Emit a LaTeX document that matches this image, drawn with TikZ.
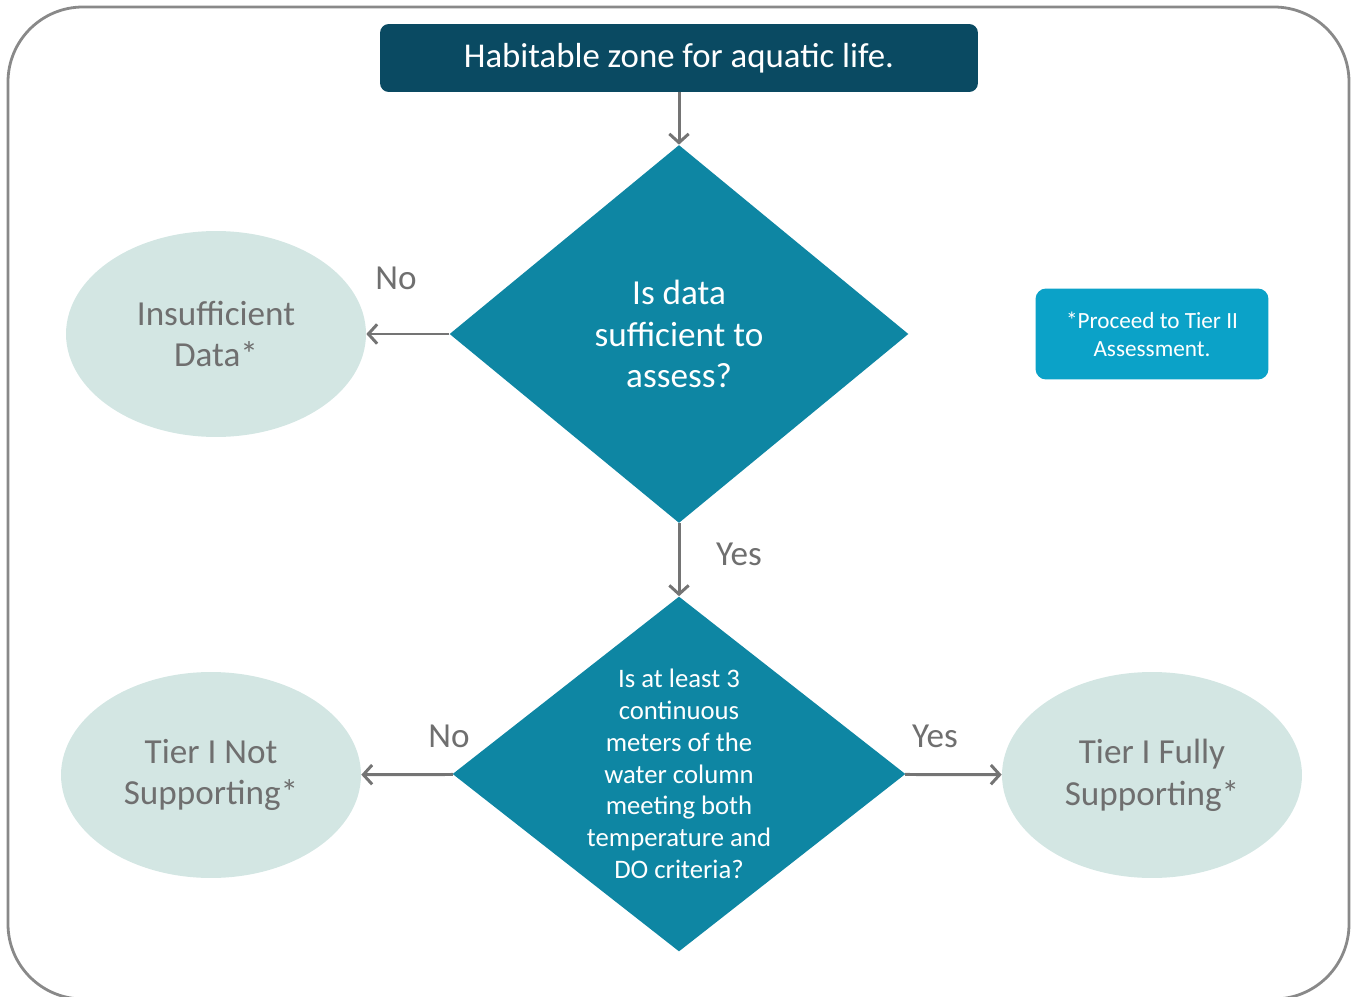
\documentclass[tikz,border=0pt]{standalone}
\usepackage{fontspec}
\setmainfont{Carlito}
\usetikzlibrary{arrows.meta,positioning,shapes.geometric}
\definecolor{zonedark}{HTML}{0A4A62}
\definecolor{decide}{HTML}{0E86A3}
\definecolor{notefill}{HTML}{0BA2C8}
\definecolor{outpale}{HTML}{D3E6E3}
\definecolor{greytext}{HTML}{6F6F6F}
\definecolor{greyline}{HTML}{747474}
\tikzset{zonebox/.style={fill=zonedark,rounded corners=5pt,text=white,minimum width=11.96cm,minimum height=1.36cm,font=\fontsize{19.8}{23}\selectfont},
decision/.style={diamond,fill=decide,inner sep=0pt},
qtext/.style={text=white,align=center},
outcome/.style={ellipse,fill=outpale,text=greytext,align=center,minimum width=6cm,minimum height=4.12cm,inner sep=0pt,font=\fontsize{20}{23.8}\selectfont},
notebox/.style={fill=notefill,rounded corners=6pt,text=white,align=center,minimum width=4.66cm,minimum height=1.82cm,font=\fontsize{13.2}{15.9}\selectfont},
flowarr/.style={-{Straight Barb[length=5pt,width=11pt]},line width=1.7pt,draw=greyline},
flowlabel/.style={text=greytext,font=\fontsize{20}{23}\selectfont}}
\begin{document}
\begin{tikzpicture}[x=0.02cm,y=-0.02cm]
\useasboundingbox (0,0) rectangle (1356,997);
\draw[line width=1.6pt,draw=greyline!85,rounded corners=1.5cm] (8,7) rectangle (1349,999);
\node[zonebox] (zone) at (679,58) {Habitable zone for aquatic life.};
\node[decision,minimum width=9.18cm,minimum height=7.56cm] (q1) at (679,334) {};
\node[qtext,font=\fontsize{20}{23.8}\selectfont] (q1text) at (q1) {Is data\\sufficient to\\assess?};
\node[decision,minimum width=9.06cm,minimum height=7.1cm] (q2) at (679,774) {};
\node[qtext,font=\fontsize{15.2}{18.1}\selectfont] (q2text) at (q2) {Is at least 3\\continuous\\meters of the\\water column\\meeting both\\temperature and\\DO criteria?};
\node[outcome] (insuff) at (216,334) {Insufficient\\Data*};
\node[outcome] (notsupp) at (211,775) {Tier I Not\\Supporting*};
\node[outcome] (fullsupp) at (1152,775) {Tier I Fully\\Supporting*};
\node[notebox] (note) at (1152,334) {*Proceed to Tier II\\Assessment.};
\draw[flowarr] (zone)--(q1);
\draw[flowarr] (q1)--(insuff);
\draw[flowarr] (q1)--(q2);
\draw[flowarr] (q2)--(notsupp);
\draw[flowarr] (q2)--(fullsupp);
\node[flowlabel] (no1) at (396,278) {No};
\node[flowlabel] (yes1) at (739,554) {Yes};
\node[flowlabel] (no2) at (449,736) {No};
\node[flowlabel] (yes2) at (935,736) {Yes};
\end{tikzpicture}
\end{document}
